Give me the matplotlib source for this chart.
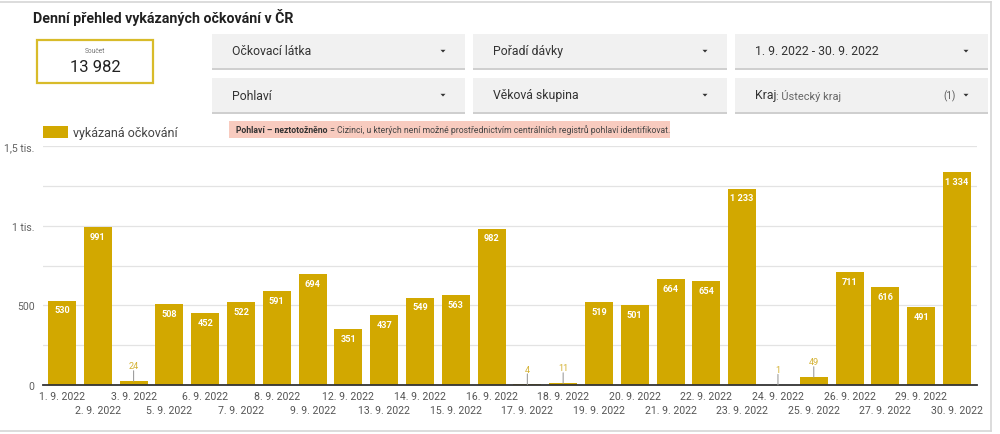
import matplotlib
matplotlib.use("Agg")
import matplotlib.pyplot as plt
from matplotlib.patches import Rectangle, Polygon
from matplotlib.lines import Line2D

plt.rcParams['font.family'] = ['Roboto', 'DejaVu Sans']

# ---------------- data ----------------
dates = ["1. 9. 2022", "2. 9. 2022", "3. 9. 2022", "5. 9. 2022", "6. 9. 2022",
         "7. 9. 2022", "8. 9. 2022", "9. 9. 2022", "12. 9. 2022", "13. 9. 2022",
         "14. 9. 2022", "15. 9. 2022", "16. 9. 2022", "17. 9. 2022", "18. 9. 2022",
         "19. 9. 2022", "20. 9. 2022", "21. 9. 2022", "22. 9. 2022", "23. 9. 2022",
         "24. 9. 2022", "25. 9. 2022", "26. 9. 2022", "27. 9. 2022", "29. 9. 2022",
         "30. 9. 2022"]
values = [530, 991, 24, 508, 452, 522, 591, 694, 351, 437, 549, 563, 982, 4, 11,
          519, 501, 664, 654, 1233, 1, 49, 711, 616, 491, 1334]
y_ticks = [0, 500, 1000, 1500]
y_tick_labels = ["0", "500", "1 tis.", "1,5 tis."]
series_name = "vykázaná očkování"
title = "Denní přehled vykázaných očkování v ČR"
total_label = "Součet"
total_value = "13 982"
filters_row1 = ["Očkovací látka", "Pořadí dávky", "1. 9. 2022 - 30. 9. 2022"]
filters_row2 = ["Pohlaví", "Věková skupina"]
kraj_label = "Kraj"
kraj_value = ": Ústecký kraj"
kraj_count = "(1)"
note_bold = "Pohlaví – neztotožněno"
note_rest = " = Cizinci, u kterých není možné prostřednictvím centrálních registrů pohlaví identifikovat."

GOLD = '#d2a800'
W, H = 1000, 435

fig = plt.figure(figsize=(W / 100, H / 100), dpi=100)
fig.patch.set_facecolor('white')


def fx(x):
    return x / W


def fy(y):
    return 1 - y / H


def rect(x0, y0, x1, y1, **kw):
    r = Rectangle((fx(x0), fy(y1)), fx(x1 - x0), (y1 - y0) / H,
                  transform=fig.transFigure, **kw)
    fig.add_artist(r)
    return r


def ftext(x, y, s, **kw):
    return fig.text(fx(x), fy(y), s, **kw)


def arrow(x, y):
    pts = [(fx(x - 2.5), fy(y - 1.2)), (fx(x + 2.5), fy(y - 1.2)), (fx(x), fy(y + 1.5))]
    fig.add_artist(Polygon(pts, closed=True, transform=fig.transFigure,
                           facecolor='#333333', edgecolor='none'))


# frame lines
fig.add_artist(Line2D([0, fx(991)], [fy(3), fy(3)], transform=fig.transFigure, color='#d6d6d6', lw=1.2))
fig.add_artist(Line2D([fx(991), fx(991)], [fy(3), fy(432)], transform=fig.transFigure, color='#d6d6d6', lw=1.2))
fig.add_artist(Line2D([0, fx(991)], [fy(432), fy(432)], transform=fig.transFigure, color='#d6d6d6', lw=1.2))

# title
ftext(33, 17, title, fontsize=10.2, fontweight='bold', color='#212121', va='center', ha='left')

# scorecard
rect(37, 41, 153, 84, facecolor='white', edgecolor='#d8bb2a', lw=1.6)
ftext(95, 52, total_label, fontsize=4.8, color='#757575', ha='center', va='center')
ftext(95, 68, total_value, fontsize=12, color='#212121', ha='center', va='center')

# filter boxes
cols = [(212, 465), (473, 727), (735, 988)]
rows = [(35, 69), (79, 113)]


def fbox(x0, y0, x1, y1):
    rect(x0, y0 + 1.5, x1, y1 + 1.5, facecolor='#cfcfcf', edgecolor='none')
    rect(x0, y0, x1, y1, facecolor='#f1f1f1', edgecolor='none')


for (x0, x1), label in zip(cols, filters_row1):
    y0, y1 = rows[0]
    fbox(x0, y0, x1, y1)
    ftext(x0 + 20, (y0 + y1) / 2, label, fontsize=8.8, color='#333333', va='center')
    arrow(x1 - 22, (y0 + y1) / 2)
for (x0, x1), label in zip(cols[:2], filters_row2):
    y0, y1 = rows[1]
    fbox(x0, y0, x1, y1)
    ftext(x0 + 20, (y0 + y1) / 2, label, fontsize=8.8, color='#333333', va='center')
    arrow(x1 - 22, (y0 + y1) / 2)
x0, x1 = cols[2]
y0, y1 = rows[1]
fbox(x0, y0, x1, y1)
t_k = ftext(x0 + 20, (y0 + y1) / 2, kraj_label, fontsize=8.8, color='#333333', va='center')
arrow(x1 - 22, (y0 + y1) / 2)
ftext(x1 - 32, (y0 + y1) / 2, kraj_count, fontsize=7, color='#555555', va='center', ha='right')

# legend
rect(43, 127, 68, 139, facecolor=GOLD, edgecolor='none')
ftext(73, 133, series_name, fontsize=9, color='#444444', va='center')

# note box
rect(229, 122, 670, 139, facecolor='#f8cbbf', edgecolor='none')
t_nb = ftext(236, 130.5, note_bold, fontsize=6.2, fontweight='bold', color='#333333', va='center')

# chart
ax = fig.add_axes([fx(43), fy(386), fx(977 - 43), (386 - 147) / H])
x = list(range(len(values)))
ax.bar(x, values, width=0.78, color=GOLD, zorder=2)
ax.set_ylim(0, 1500)
ax.set_xlim(-0.53, len(values) - 1 + 0.56)
ax.set_yticks(y_ticks)
ax.set_yticklabels(y_tick_labels)
ax.set_yticks([250, 750, 1250], minor=True)
ax.tick_params(axis='y', which='both', length=0, pad=6, labelsize=7.6, labelcolor='#616161')
ax.tick_params(axis='x', length=0)
ax.set_xticks([])
ax.grid(axis='y', which='both', color='#e3e3e3', lw=0.9, zorder=0)
for s in ['left', 'right', 'top']:
    ax.spines[s].set_visible(False)
ax.spines['bottom'].set_color('#333333')
ax.spines['bottom'].set_linewidth(1.3)
ax.spines['bottom'].set_zorder(3)


def fmt(v):
    return f"{v:,}".replace(",", " ")


for i, v in enumerate(values):
    if v >= 150:
        ax.annotate(fmt(v), xy=(i, v), xytext=(0, -6.8), textcoords='offset points',
                    ha='center', va='center', color='white', fontsize=6.6,
                    fontweight='bold', zorder=4)
    else:
        ax.annotate('', xy=(i, v), xytext=(0, 7.5), textcoords='offset points',
                    arrowprops=dict(arrowstyle='-', color='#9e9e9e', lw=0.8,
                                    shrinkA=0, shrinkB=0), zorder=4)
        ax.annotate(fmt(v), xy=(i, v), xytext=(0, 11), textcoords='offset points',
                    ha='center', va='center', color='#d4b234', fontsize=6.6, zorder=4)

trans = ax.get_xaxis_transform()
for i, d in enumerate(dates):
    off = -8 if i % 2 == 0 else -18.3
    ax.annotate(d, xy=(i, 0), xycoords=trans, xytext=(0, off), textcoords='offset points',
                ha='center', va='center', fontsize=7.6, color='#555555',
                annotation_clip=False)

# place trailing texts after bold segments
fig.canvas.draw()
r = fig.canvas.get_renderer()
bb = t_nb.get_window_extent(r)
fig.text(bb.x1 / W, fy(130.5), note_rest, fontsize=6.2, color='#444444', va='center')
bb2 = t_k.get_window_extent(r)
fig.text(bb2.x1 / W, fy((y0 + y1) / 2), kraj_value, fontsize=7.9, color='#666666', va='center')

fig.savefig("out.png", dpi=100, facecolor='white')
